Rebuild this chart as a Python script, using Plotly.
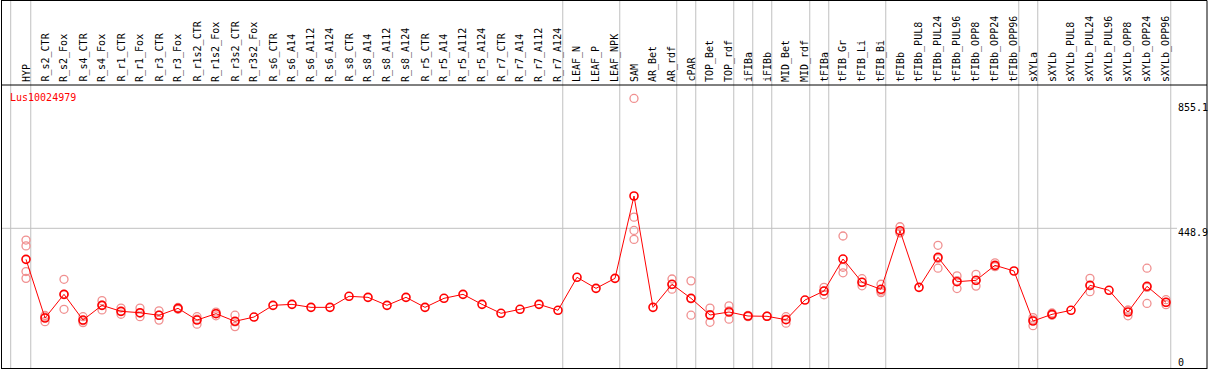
import plotly.graph_objects as go

categories = ["HYP", "R_s2_CTR", "R_s2_Fox", "R_s4_CTR", "R_s4_Fox", "R_r1_CTR", "R_r1_Fox",
              "R_r3_CTR", "R_r3_Fox", "R_r1s2_CTR", "R_r1s2_Fox", "R_r3s2_CTR", "R_r3s2_Fox",
              "R_s6_CTR", "R_s6_A14", "R_s6_A112", "R_s6_A124", "R_s8_CTR", "R_s8_A14",
              "R_s8_A112", "R_s8_A124", "R_r5_CTR", "R_r5_A14", "R_r5_A112", "R_r5_A124",
              "R_r7_CTR", "R_r7_A14", "R_r7_A112", "R_r7_A124", "LEAF_N", "LEAF_P", "LEAF_NPK",
              "SAM", "AR_Bet", "AR_rdf", "cPAR", "TOP_Bet", "TOP_rdf", "iFIBa", "iFIBb",
              "MID_Bet", "MID_rdf", "tFIBa", "tFIB_Gr", "tFIB_Li", "tFIB_Bi", "tFIBb",
              "tFIBb_PUL8", "tFIBb_PUL24", "tFIBb_PUL96", "tFIBb_OPP8", "tFIBb_OPP24",
              "tFIBb_OPP96", "sXYLa", "sXYLb", "sXYLb_PUL8", "sXYLb_PUL24", "sXYLb_PUL96",
              "sXYLb_OPP8", "sXYLb_OPP24", "sXYLb_OPP96"]

means = [348.6, 158.8, 235.4, 152.3, 199.8, 180.4, 176.0, 167.5, 190.1, 152.3, 172.8, 148.1, 162.0,
         199.8, 203.0, 193.3, 193.3, 229.0, 225.7, 199.8, 225.7, 193.3, 222.5, 235.4, 203.0,
         174.0, 186.9, 203.0, 183.7, 290.4, 254.8, 287.0,
         553.4, 193.3, 267.8, 222.5, 168.5, 178.2, 165.3, 164.3, 153.3, 217.0,
         246.1, 349.6, 274.3, 251.6, 441.1, 258.0, 355.1, 276.2, 280.7, 329.2, 310.8,
         149.1, 170.7, 183.7, 264.6, 248.4, 178.2, 261.3, 209.6]

replicates = [
    [411, 392, 309, 287], [147, 162, 167], [284, 187, 235], [163, 144, 150], [215, 185, 200],
    [191, 171, 180], [191, 163, 174], [182, 152, 168], [193, 187, 190], [163, 139, 155],
    [178, 166, 174], [168, 131, 146], [],
    [], [], [], [], [], [], [], [], [], [], [], [], [], [], [], [], [], [], [],
    [869, 485, 442, 413], [], [285, 252, 267], [279, 168, 221], [191, 145, 170], [198, 155, 182],
    [166, 163, 167], [164, 165], [163, 142, 155], [],
    [258, 234, 246], [424, 323, 305], [286, 263, 274], [268, 241, 246], [454, 435, 434],
    [], [394, 320, 351], [295, 254, 280], [300, 262, 280], [337, 325, 326], [],
    [160, 134, 153], [175, 168, 169], [], [287, 244, 263], [], [184, 166, 184],
    [320, 206, 258], [218, 202, 209]]

# group separators: placed just after these category indices
separators_after = [-1, 0, 28, 31, 34, 35, 37, 38, 39, 41, 42, 45, 52, 53, 60]
gene_name = "Lus10024979"
y_labels = [855.1, 448.9, 0]

W, H = 1209, 370
L, R, T, B = 1, 2, 85, 1
PW, PH = W - L - R, H - T - B
STEP = 19.0
X0PX = 26.0
YMIN, YMAX = -6.1, 912.4


def px_to_x(px):
    return (px - X0PX) / STEP


def py_to_paper(py):
    return (H - B - py) / PH


idx = list(range(len(categories)))
rx, ry = [], []
for i, reps in enumerate(replicates):
    for v in reps:
        rx.append(i)
        ry.append(v)

fig = go.Figure()
fig.add_trace(go.Scatter(x=rx, y=ry, mode="markers",
                         marker=dict(symbol="circle-open", size=8, color="#f09090",
                                     line=dict(width=1.3, color="#f09090")),
                         hoverinfo="skip", showlegend=False))
fig.add_trace(go.Scatter(x=idx, y=means, mode="lines+markers",
                         line=dict(color="#ff0000", width=1),
                         marker=dict(symbol="circle-open", size=8, color="#ff0000",
                                     line=dict(width=1.6, color="#ff0000")),
                         showlegend=False))

shapes = []
top_paper = py_to_paper(0.5)
for k in separators_after:
    xs = k + 0.25 if k >= 0 else px_to_x(10.7)
    shapes.append(dict(type="line", xref="x", yref="paper", x0=xs, x1=xs, y0=0, y1=top_paper,
                       line=dict(color="#c0c0c0", width=1), layer="below"))
# horizontal gridline at middle label
shapes.append(dict(type="line", xref="paper", yref="y", x0=0, x1=(1177 - L) / PW,
                   y0=y_labels[1], y1=y_labels[1], line=dict(color="#c0c0c0", width=1), layer="below"))
# outer box and header line
blk = dict(color="#000000", width=1)
shapes.append(dict(type="line", xref="paper", yref="paper", x0=0, x1=1, y0=top_paper, y1=top_paper, line=blk))
shapes.append(dict(type="line", xref="paper", yref="paper", x0=0, x1=1, y0=py_to_paper(85), y1=py_to_paper(85), line=blk))
shapes.append(dict(type="line", xref="paper", yref="paper", x0=0, x1=1, y0=py_to_paper(368.5), y1=py_to_paper(368.5), line=blk))
shapes.append(dict(type="line", xref="paper", yref="paper", x0=0.5 / PW, x1=0.5 / PW, y0=0, y1=top_paper, line=blk))
shapes.append(dict(type="line", xref="paper", yref="paper", x0=1, x1=1, y0=0, y1=top_paper, line=blk))

font = "DejaVu Sans Mono"
annotations = []
for i, c in enumerate(categories):
    annotations.append(dict(x=i, y=py_to_paper(83), xref="x", yref="paper", text=c, textangle=-90,
                            xanchor="center", yanchor="bottom", showarrow=False,
                            font=dict(family=font, size=10, color="#000000"), borderpad=0))
annotations.append(dict(x=px_to_x(9), y=py_to_paper(97), xref="x", yref="paper", text=gene_name,
                        xanchor="left", yanchor="middle", showarrow=False,
                        font=dict(family=font, size=10, color="#ff0000"), borderpad=0))
label_py = [107, 232, 362]
for v, py in zip(y_labels, label_py):
    annotations.append(dict(x=(1177 - L) / PW, y=py_to_paper(py), xref="paper", yref="paper",
                            text=("%g" % v) if v != 0 else "0",
                            xanchor="left", yanchor="middle", showarrow=False,
                            font=dict(family=font, size=10, color="#000000"), borderpad=0))

fig.update_layout(
    width=W, height=H,
    margin=dict(l=L, r=R, t=T, b=B, pad=0),
    paper_bgcolor="#ffffff", plot_bgcolor="#ffffff",
    xaxis=dict(range=[px_to_x(L), px_to_x(W - R)], showgrid=False, zeroline=False,
               showticklabels=False, ticks="", showline=False),
    yaxis=dict(range=[YMIN, YMAX], showgrid=False, zeroline=False,
               showticklabels=False, ticks="", showline=False),
    shapes=shapes, annotations=annotations, showlegend=False,
)

fig.write_html("out.html", config={"displayModeBar": False},
               post_script="document.body.style.margin='0px';document.body.style.padding='0px';document.body.style.overflow='hidden';")
